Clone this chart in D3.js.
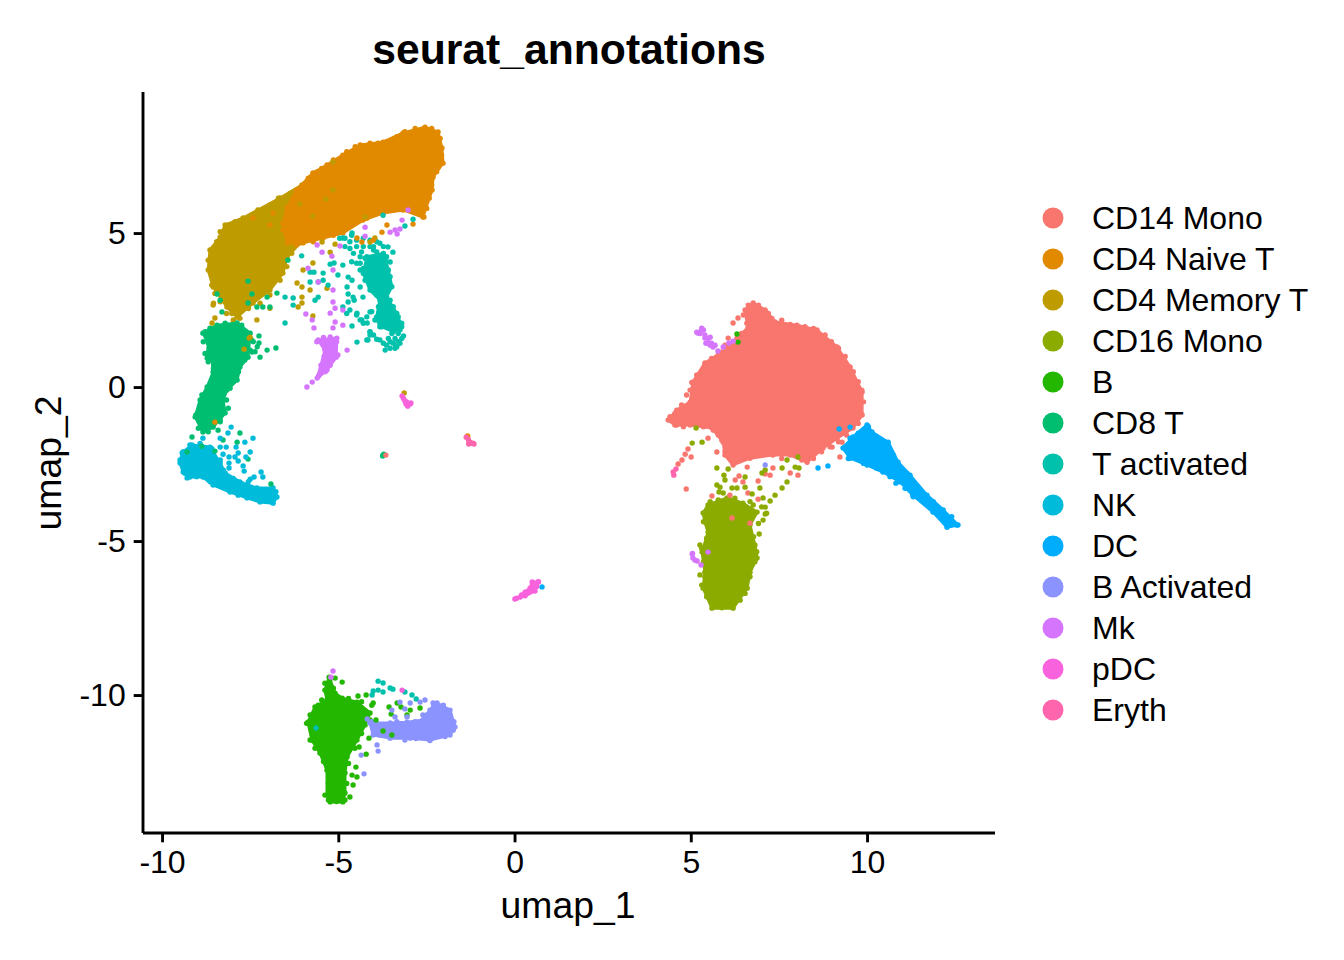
<!DOCTYPE html>
<html><head><meta charset="utf-8">
<script src="https://cdn.jsdelivr.net/npm/d3@7/dist/d3.min.js"></script>
<style>html,body{margin:0;padding:0;background:#fff}svg{display:block}text{font-family:"Liberation Sans",Arial,sans-serif;fill:#000}</style>
</head><body><svg id="c" width="1344" height="960"></svg>
<script>
const titleText="seurat_annotations",xLabel="umap_1",yLabel="umap_2";
const xTicks=[-10,-5,0,5,10],yTicks=[-10,-5,0,5];
const categories=["CD14 Mono","CD4 Naive T","CD4 Memory T","CD16 Mono","B","CD8 T","T activated","NK","DC","B Activated","Mk","pDC","Eryth"];
const colours=["#F8766D","#E18A00","#BE9C00","#8CAB00","#24B700","#00BE70","#00C1AB","#00BBDA","#00ACFC","#8B93FF","#D575FE","#F962DD","#FF65AC"];

// dense regions of each cluster: edge points
const cd14Edge=[[4.36,-1.07],[4.60,-0.75],[4.98,-0.49],[5.06,0.16],[5.40,0.78],[5.89,1.14],[6.31,1.59],[6.62,1.92],[6.54,2.50],[6.77,2.73],[7.11,2.50],[7.39,2.11],[8.01,2.01],[8.58,1.85],[9.15,1.30],[9.52,0.65],[9.86,-0.16],[9.86,-0.91],[9.60,-1.33],[9.15,-1.66],[8.75,-1.98],[8.30,-2.44],[7.82,-2.21],[7.33,-2.21],[6.68,-2.31],[6.20,-2.53],[5.97,-2.21],[5.92,-1.79],[5.60,-1.33],[4.98,-1.23],[4.55,-1.23]];
const naiveEdge=[[-6.18,6.40],[-5.72,6.95],[-5.32,7.21],[-4.87,7.53],[-4.38,7.86],[-3.73,7.95],[-3.16,8.25],[-2.54,8.44],[-2.17,8.28],[-2.06,7.76],[-2.03,7.27],[-2.31,6.82],[-2.34,6.40],[-2.60,5.52],[-3.16,5.75],[-3.73,5.65],[-4.30,5.42],[-4.87,5.00],[-5.43,4.84],[-6.00,4.68],[-6.45,4.68],[-6.57,5.32],[-6.45,5.84]];
const memoryEdge=[[-8.64,4.45],[-8.35,4.87],[-8.21,5.26],[-7.70,5.49],[-7.28,5.75],[-6.65,6.14],[-6.03,6.56],[-5.80,6.07],[-5.80,5.32],[-6.09,4.68],[-6.45,4.22],[-6.57,3.70],[-6.94,3.15],[-7.42,2.73],[-7.87,2.27],[-8.16,2.60],[-8.55,3.25],[-8.69,3.80]];
const cd16Edge=[[5.49,-3.83],[6.03,-3.60],[6.48,-3.77],[6.88,-4.06],[6.68,-4.48],[6.82,-5.13],[6.88,-5.55],[6.68,-6.01],[6.60,-6.53],[6.20,-7.18],[5.60,-7.18],[5.35,-6.53],[5.40,-6.01],[5.32,-5.36],[5.49,-4.71],[5.40,-4.38],[5.35,-4.09]];
const bEdge=[[-5.86,-10.88],[-5.66,-10.39],[-5.32,-10.16],[-5.38,-9.84],[-5.26,-9.42],[-5.09,-9.94],[-4.89,-10.10],[-4.47,-10.23],[-4.10,-10.58],[-4.24,-10.97],[-4.47,-11.46],[-4.75,-12.01],[-4.81,-12.53],[-4.81,-13.18],[-4.87,-13.47],[-5.23,-13.47],[-5.32,-13.25],[-5.32,-12.44],[-5.52,-11.88],[-5.75,-11.46]];
const cd8Edge=[[-8.84,1.75],[-8.44,2.01],[-7.87,2.08],[-7.50,1.75],[-7.56,0.97],[-7.79,0.65],[-7.87,0.23],[-8.16,-0.10],[-8.27,-0.42],[-8.21,-0.84],[-8.55,-1.30],[-8.84,-1.46],[-9.06,-0.97],[-8.92,-0.42],[-8.72,0.00],[-8.55,0.49],[-8.58,0.88],[-8.72,0.94],[-8.69,1.43]];
const tactEdge=[[-4.19,4.23],[-3.72,4.34],[-3.58,3.80],[-3.48,3.26],[-3.63,2.93],[-3.34,2.39],[-3.20,1.96],[-3.44,1.80],[-3.77,1.96],[-3.91,2.28],[-3.82,2.83],[-4.10,3.15],[-4.29,3.69]];
const nkEdge=[[-9.49,-2.47],[-9.43,-2.14],[-9.15,-1.88],[-8.64,-1.95],[-8.35,-2.47],[-8.21,-2.79],[-7.79,-3.08],[-7.31,-3.28],[-6.85,-3.28],[-6.74,-3.57],[-6.85,-3.77],[-7.22,-3.73],[-7.59,-3.60],[-8.07,-3.41],[-8.55,-3.18],[-8.84,-2.92],[-9.21,-2.92],[-9.40,-2.76]];
const dcEdge=[[9.60,-1.62],[10.00,-1.23],[10.14,-1.46],[10.60,-1.79],[10.88,-2.44],[11.22,-2.86],[11.70,-3.51],[12.16,-3.99],[12.58,-4.48],[12.27,-4.55],[11.87,-4.06],[11.30,-3.51],[10.94,-3.08],[10.45,-2.76],[10.00,-2.53],[9.52,-2.31],[9.32,-1.98]];
const bActEdge=[[-4.10,-10.91],[-3.53,-10.91],[-3.05,-10.88],[-2.60,-10.81],[-2.40,-10.49],[-2.20,-10.26],[-1.83,-10.49],[-1.69,-11.04],[-1.83,-11.30],[-2.40,-11.46],[-2.96,-11.40],[-3.53,-11.40],[-4.01,-11.30]];
const mkEdge=[[-5.57,1.53],[-5.04,1.59],[-5.06,0.97],[-5.32,0.55],[-5.60,0.29],[-5.49,0.71],[-5.38,1.20]];
const pdcEdge=[[0.01,-6.88],[0.16,-6.82],[0.30,-6.66],[0.44,-6.53],[0.50,-6.33],[0.67,-6.33],[0.58,-6.62],[0.30,-6.78]];
const erythEdge=[[-1.35,-1.62],[-1.26,-1.79],[-1.18,-1.82],[-1.30,-1.85]];

// cells along the rim of each dense region
const cd14Rim=[[4.41,-0.96],[4.55,-0.86],[4.74,-0.58],[4.88,-0.26],[4.98,-0.10],[5.03,0.15],[5.17,0.39],[5.36,0.55],[5.59,0.93],[5.78,1.04],[5.97,1.36],[6.44,1.74],[6.59,2.07],[6.49,2.34],[6.63,2.66],[6.92,2.66],[7.20,2.39],[7.30,2.23],[7.58,2.17],[7.82,2.03],[8.24,1.96],[8.48,1.90],[8.81,1.69],[8.99,1.47],[9.19,1.26],[9.38,0.99],[9.61,0.50],[9.75,0.17],[9.85,-0.10],[9.90,-0.48],[9.82,-0.86],[9.75,-1.18],[9.42,-1.56],[9.19,-1.78],[8.95,-1.94],[8.71,-2.10],[8.48,-2.32],[8.15,-2.37],[7.91,-2.15],[7.58,-2.32],[7.15,-2.10],[6.87,-2.21],[6.49,-2.26],[6.26,-2.37],[5.97,-2.10],[5.88,-1.72],[5.78,-1.56],[5.64,-1.40],[5.36,-1.29],[5.12,-1.18],[4.79,-1.29],[4.60,-1.23]];
const naiveRim=[[-6.13,6.34],[-5.85,6.78],[-5.47,7.10],[-5.14,7.37],[-4.76,7.64],[-4.52,7.80],[-4.10,7.88],[-3.63,7.97],[-3.34,8.13],[-3.11,8.29],[-2.82,8.40],[-2.35,8.40],[-2.11,8.07],[-2.07,7.53],[-2.26,7.10],[-2.21,6.99],[-2.44,6.72],[-2.35,6.56],[-2.42,6.13],[-2.49,5.80],[-2.73,5.75],[-2.97,6.02],[-3.25,5.91],[-3.53,5.75],[-3.91,5.69],[-4.19,5.48],[-4.57,5.31],[-4.85,5.10],[-5.14,4.93],[-5.71,4.72],[-6.18,4.61]];
const memoryRim=[[-8.69,4.12],[-8.59,3.31],[-8.45,4.72],[-8.35,5.04],[-8.12,5.26],[-7.93,5.37],[-7.50,5.53],[-7.17,5.69],[-6.94,5.91],[-6.70,6.13],[-6.37,6.29],[-8.50,3.04],[-8.35,2.77],[-8.02,2.39],[-7.79,2.23],[-7.55,2.55],[-7.22,2.72],[-6.94,2.99],[-6.65,3.47],[-6.46,3.91],[-6.32,4.34],[-8.54,2.72],[-8.17,2.39],[-7.98,2.18]];
const cd16Rim=[[5.55,-3.72],[5.78,-3.67],[6.25,-3.61],[6.68,-3.72],[7.01,-3.89],[7.15,-4.10],[6.92,-4.43],[6.78,-4.86],[6.87,-5.35],[6.82,-5.67],[6.68,-6.16],[6.54,-6.70],[6.40,-6.92],[5.88,-7.17],[5.45,-6.81],[5.31,-6.43],[5.40,-6.16],[5.36,-5.67],[5.31,-5.24],[5.45,-4.91],[5.50,-4.59],[5.36,-4.37]];
const bRim=[[-5.90,-10.92],[-5.80,-10.65],[-5.57,-10.33],[-5.47,-10.16],[-5.28,-10.11],[-5.14,-9.78],[-5.38,-9.62],[-5.24,-9.51],[-4.71,-10.11],[-4.34,-10.22],[-4.05,-10.33],[-4.10,-10.81],[-4.34,-11.25],[-4.53,-11.73],[-4.71,-12.22],[-4.76,-12.87],[-4.81,-13.41],[-5.05,-13.46],[-5.28,-13.41],[-5.38,-13.25],[-5.28,-12.87],[-5.42,-12.16],[-5.66,-11.73],[-5.80,-11.46]];
const cd8Rim=[[-8.78,1.80],[-8.64,1.91],[-8.21,2.07],[-7.74,2.01],[-7.46,1.53],[-7.60,1.26],[-7.65,0.88],[-7.83,0.50],[-7.98,0.17],[-8.07,-0.04],[-8.17,-0.42],[-8.12,-0.69],[-8.35,-1.13],[-8.69,-1.45],[-8.97,-1.34],[-9.04,-0.91],[-8.92,-0.64],[-8.87,-0.26],[-8.59,0.23],[-8.54,0.61],[-8.69,0.82],[-8.78,1.09],[-8.83,1.47],[-7.41,1.47],[-7.50,1.20],[-7.36,1.15],[-7.30,1.31]];
const tactRim=[[-4.81,4.83],[-4.62,4.93],[-4.48,4.77],[-4.29,4.56],[-4.10,4.56],[-3.91,4.72],[-3.72,4.56],[-4.57,4.34],[-4.38,4.23],[-4.62,4.07],[-4.48,4.02],[-4.38,3.80],[-4.24,3.47],[-4.00,4.45],[-3.82,4.67],[-4.96,4.83],[-4.67,4.72],[-4.29,4.83],[-4.10,4.77],[-3.72,2.01],[-3.25,1.85],[-3.15,1.66],[-3.30,1.47],[-3.39,1.26],[-3.67,1.20],[-3.82,1.53],[-3.58,1.58],[-3.63,1.36],[-4.10,1.80],[-4.00,1.69],[-4.38,2.18],[-4.29,2.07],[-4.48,2.34],[-4.19,2.28],[-4.05,2.45],[-4.76,2.39],[-3.48,1.74],[-3.44,1.42],[-3.25,1.42],[-4.48,4.56],[-4.34,4.39],[-4.24,4.18],[-4.38,4.02],[-4.29,3.85],[-4.19,3.58],[-4.10,3.37],[-4.00,3.10],[-3.91,2.99],[-3.53,3.58],[-3.86,2.61],[-3.96,2.18],[-3.82,2.07],[-4.00,4.56],[-3.91,4.39],[-3.63,4.23],[-3.63,4.07],[-4.67,4.50],[-4.81,4.56],[-3.53,2.82],[-3.44,2.61],[-3.30,2.28],[-3.20,2.07],[-3.91,2.18],[-3.82,1.96],[-3.44,2.01],[-3.30,1.74],[-3.20,1.58],[-3.34,1.31],[-3.53,1.26],[-3.72,1.42],[-3.91,1.55],[-4.10,1.69],[-4.19,1.53],[-3.53,1.47],[-3.39,1.58]];
const nkRim=[[-9.49,-2.37],[-9.40,-2.10],[-9.21,-1.88],[-8.92,-1.83],[-8.59,-1.99],[-8.35,-2.37],[-8.26,-2.70],[-7.98,-2.97],[-7.55,-3.07],[-7.08,-3.34],[-6.77,-3.40],[-6.89,-3.72],[-7.50,-3.56],[-7.84,-3.51],[-8.31,-3.18],[-8.64,-3.07],[-9.02,-2.91],[-9.35,-2.80]];
const dcRim=[[9.75,-1.50],[10.04,-1.29],[10.37,-1.78],[10.75,-2.21],[10.89,-2.53],[11.13,-2.80],[11.41,-3.29],[11.88,-3.72],[12.07,-3.99],[12.40,-4.21],[12.54,-4.48],[12.26,-4.48],[12.07,-4.21],[11.69,-3.78],[11.31,-3.56],[11.08,-3.29],[10.65,-2.91],[10.27,-2.64],[9.90,-2.48],[9.47,-2.32],[9.61,-2.10],[9.38,-1.94]];
const bActRim=[[-4.05,-10.87],[-3.34,-10.87],[-2.82,-10.87],[-2.49,-10.65],[-2.30,-10.38],[-2.02,-10.33],[-1.83,-10.65],[-1.72,-10.87],[-1.74,-11.14],[-1.97,-11.35],[-2.40,-11.48],[-2.80,-11.41],[-3.82,-11.30]];
const mkRim=[[-5.61,1.47],[-5.42,1.61],[-5.23,1.63],[-5.05,1.47],[-5.33,1.09],[-5.14,0.93],[-5.23,0.71],[-5.37,0.50],[-5.56,0.36],[-5.47,0.61],[-5.40,0.99]];

// loose single cells
const cd14Cells=[[6.34,2.24],[6.20,2.08],[6.06,1.59],[5.49,-1.66],[4.92,-2.01],[4.84,-2.18],[5.01,-2.27],[4.75,-2.37],[4.64,-2.50],[5.74,-2.11],[4.87,-3.31],[5.60,-3.54],[6.26,-3.02],[6.48,-3.08],[6.37,-2.89],[6.91,-3.05],[7.11,-2.82],[7.25,-2.86],[7.33,-2.63],[6.60,-2.60],[6.11,-3.51],[6.62,-3.44],[6.91,-3.64],[6.17,-4.25],[6.68,-4.42],[7.82,-2.79],[8.04,-2.86],[9.23,-2.27],[9.01,-1.95],[9.52,-1.33],[9.29,-1.79],[-3.65,-2.21]];
const naiveCells=[[-2.88,5.29],[-3.16,5.84],[-3.62,5.26],[-4.01,4.77],[-3.76,5.03],[-4.33,4.71],[-4.47,4.84],[-8.50,-1.14],[-2.57,5.52],[-4.10,7.92],[-3.87,7.92],[-5.60,6.98],[-7.42,5.49],[-6.85,5.65],[-6.94,5.26],[-6.57,5.10],[-6.37,4.77],[-1.33,-1.59]];
const memoryCells=[[-5.72,4.03],[-6.00,3.80],[-6.17,3.38],[-6.03,3.25],[-5.80,3.15],[-6.03,2.92],[-6.03,2.73],[-6.14,2.60],[-5.72,2.31],[-5.32,3.21],[-5.46,4.71],[-5.23,4.38],[-5.09,4.64],[-8.58,2.08],[-8.55,2.66],[-7.50,1.62],[-7.67,1.23],[-7.31,2.18],[-6.94,2.56],[-7.53,1.59],[-8.50,2.24],[-4.24,5.52],[-4.10,4.71],[-3.96,4.84],[-5.15,7.31],[-5.15,6.40],[-5.72,5.55],[-5.35,6.10],[-6.09,5.94],[-3.13,-0.19]];
const cd16Cells=[[5.15,-1.33],[5.04,-1.82],[5.32,-1.79],[5.74,-2.63],[6.06,-2.66],[5.94,-2.86],[5.97,-3.02],[5.74,-3.18],[5.83,-3.25],[5.80,-3.41],[5.92,-3.44],[6.17,-3.28],[6.31,-3.28],[6.54,-2.92],[6.54,-3.25],[6.96,-3.28],[6.74,-3.47],[7.05,-3.60],[7.39,-3.51],[7.59,-3.28],[7.73,-3.08],[7.25,-3.70],[7.11,-3.90],[7.11,-4.12],[7.05,-4.32],[6.94,-4.77],[7.02,-2.79],[7.11,-2.69],[7.59,-2.63],[7.73,-2.37],[8.04,-2.27],[7.96,-2.60],[8.07,-2.63],[5.26,-5.13],[5.26,-6.10],[6.77,-3.83]];
const bCells=[[-4.89,-9.58],[-5.09,-9.45],[-4.67,-13.31],[-4.58,-12.92],[-4.47,-12.66],[-4.61,-12.60],[-4.50,-12.34],[-4.21,-11.92],[-4.41,-11.69],[-4.13,-11.40],[-3.56,-10.39],[-3.50,-10.62],[-3.33,-10.26],[-3.22,-10.39],[-2.96,-10.49],[-2.68,-10.42],[-3.05,-10.65],[-4.21,-10.00],[-4.44,-10.03],[-3.93,-10.81],[-3.73,-11.17],[-3.48,-11.30],[-4.01,-10.26],[6.31,1.72],[6.34,1.46]];
const cd8Cells=[[-7.25,1.66],[-7.25,1.43],[-7.45,1.14],[-7.02,1.20],[-6.77,1.27],[-7.22,0.97],[-9.15,-1.62],[-8.35,-1.07],[-7.79,-1.49],[-8.27,-1.72],[-7.87,-1.79],[-7.56,-2.34],[-6.91,-3.15],[-9.29,-2.11],[-8.87,-1.92],[-8.50,-2.08],[-8.41,-1.40],[-7.56,3.44],[-7.45,3.02],[-6.74,3.05],[-7.02,2.92],[-7.31,2.60],[-7.56,2.73],[-8.44,3.02],[-8.35,2.82],[-8.30,2.44],[-6.43,4.12],[-7.14,2.60],[-6.94,2.60],[-3.73,-2.21],[-3.74,-2.24],[-3.71,-2.18]];
const tactCells=[[-6.04,4.26],[-5.80,3.73],[-5.69,3.73],[-5.80,3.41],[-5.57,3.41],[-5.43,3.70],[-5.43,3.47],[-5.29,3.31],[-5.23,3.99],[-5.12,4.03],[-5.01,3.64],[-4.87,3.96],[-4.72,3.57],[-4.61,3.47],[-4.75,3.25],[-4.72,3.02],[-4.58,2.92],[-4.30,2.92],[-4.38,3.25],[-5.66,2.82],[-5.57,2.92],[-6.51,2.92],[-6.28,2.89],[-6.28,2.66],[-6.51,2.08],[-4.72,2.76],[-4.55,2.82],[-4.87,2.60],[-4.67,2.50],[-4.47,2.40],[-4.33,2.18],[-4.10,2.44],[-4.18,2.08],[-4.61,1.98],[-4.10,1.79],[-4.16,1.53],[-4.47,1.46],[-3.59,4.55],[-3.45,4.38],[-3.53,4.06],[-3.11,5.23],[-2.88,5.45],[-3.73,5.58],[-4.87,4.84],[-4.61,5.00],[-4.04,-10.00],[-4.01,-9.87],[-3.87,-9.55],[-3.73,-9.61],[-3.73,-9.90],[-3.53,-9.77],[-3.45,-9.81],[-3.87,-9.84],[-3.11,-9.90],[-2.91,-10.00],[-2.79,-10.13],[-5.63,-11.07]];
const nkCells=[[-8.04,-1.30],[-8.13,-1.49],[-7.42,-1.66],[-7.65,-1.79],[-7.90,-1.95],[-8.35,-1.95],[-8.18,-1.95],[-7.50,-2.11],[-7.84,-2.14],[-8.10,-2.27],[-7.93,-2.27],[-7.62,-2.27],[-8.27,-2.18],[-8.10,-2.47],[-8.10,-2.63],[-7.84,-2.40],[-7.70,-2.56],[-7.67,-2.73],[-7.19,-2.76],[-7.14,-2.92],[-7.39,-2.92],[-7.50,-2.99],[-9.29,-2.95],[-8.35,-1.66],[-8.84,-1.66]];
const dcCells=[[8.61,-2.63],[8.89,-2.56],[9.21,-1.36],[9.52,-1.30],[10.82,-3.12],[9.52,-1.66],[0.78,-6.49]];
const bActCells=[[-4.27,-12.56],[-4.35,-11.95],[-3.90,-11.62],[-3.87,-11.82],[-3.11,-11.46],[-3.39,-10.71],[-3.48,-10.49],[-3.25,-10.23],[-3.05,-10.71],[-3.11,-10.45],[-2.96,-10.26],[-2.68,-10.23],[-2.54,-10.16],[-2.31,-10.26],[-2.60,-10.65],[-4.18,-10.78],[7.11,-2.53]];
const mkCells=[[-5.89,0.00],[-5.74,0.16],[-4.75,1.20],[-5.01,1.04],[-4.87,2.01],[-5.69,1.92],[-5.74,2.18],[-5.92,2.37],[-5.15,1.92],[-5.09,2.11],[-5.23,2.40],[-4.87,2.50],[-5.09,2.56],[-5.15,2.76],[-5.86,3.86],[-5.60,4.61],[-5.46,4.38],[-5.18,4.25],[-4.95,4.58],[-5.15,3.80],[-5.57,3.41],[-5.15,3.15],[-4.24,5.19],[-4.24,4.90],[-3.53,5.03],[-3.39,5.10],[-3.25,5.13],[-3.19,5.42],[-3.02,5.75],[-3.33,4.97],[5.26,1.79],[5.40,1.59],[5.55,1.62],[5.63,1.30],[5.77,1.17],[5.92,1.30],[6.08,1.43],[6.20,1.49],[5.32,1.85],[5.21,1.75],[5.49,1.43],[5.17,1.78],[5.31,1.91],[5.40,1.69],[5.50,1.58],[5.43,1.42],[5.59,1.42],[5.69,1.36],[5.26,1.74],[5.36,1.85],[5.55,1.36],[5.04,-5.42],[5.06,-5.55],[5.18,-5.65],[5.29,-5.78],[5.49,-5.36],[5.05,-5.40],[5.12,-5.62],[-5.15,-9.22],[-5.21,-9.42]];
const pdcCells=[[-3.19,-0.29],[-3.11,-0.45],[-3.02,-0.55],[-2.94,-0.52],[-3.15,-0.37],[-3.06,-0.48],[-2.96,-0.55],[-3.08,-0.55],[-3.03,-0.62],[-3.19,-9.84],[0.06,-6.86],[0.20,-6.75],[0.35,-6.65],[0.49,-6.59],[0.63,-6.48],[0.68,-6.32],[0.53,-6.37]];
const erythCells=[[4.50,-2.76],[4.52,-2.86],[4.58,-2.66],[-1.31,-1.70],[-1.24,-1.83],[-1.15,-1.85],[-1.37,-1.63]];

const edges=[cd14Edge,naiveEdge,memoryEdge,cd16Edge,bEdge,cd8Edge,tactEdge,nkEdge,dcEdge,bActEdge,mkEdge,pdcEdge,erythEdge];
const rims=[cd14Rim,naiveRim,memoryRim,cd16Rim,bRim,cd8Rim,tactRim,nkRim,dcRim,bActRim,mkRim,[],[]];
const cells=[cd14Cells,naiveCells,memoryCells,cd16Cells,bCells,cd8Cells,tactCells,nkCells,dcCells,bActCells,mkCells,pdcCells,erythCells];
const paintOrder=[2,1,6,5,7,0,3,8,4,9,10,11,12];

const svg=d3.select("#c");
const x=d3.scaleLinear().domain([-10.54,13.63]).range([143,995]);
const y=d3.scaleLinear().domain([-14.48,9.58]).range([833,92]);
const outline=d3.line().x(d=>x(d[0])).y(d=>y(d[1])).curve(d3.curveLinearClosed);
const R=2.7;

const plot=svg.append("g");
const dots=(list,i)=>plot.append("g").selectAll("circle").data(list).join("circle").attr("cx",d=>x(d[0])).attr("cy",d=>y(d[1])).attr("r",R).attr("fill",colours[i]);
paintOrder.forEach(i=>{
  plot.append("path").attr("d",outline(edges[i])).attr("fill",colours[i]).attr("stroke",colours[i]).attr("stroke-width",3).attr("stroke-linejoin","round");
  dots(edges[i],i);
  dots(rims[i],i);
});
paintOrder.forEach(i=>dots(cells[i],i));

const gx=svg.append("g").attr("transform","translate(0,833)").call(d3.axisBottom(x).tickValues(xTicks).tickFormat(String).tickSize(9.3).tickPadding(8));
const gy=svg.append("g").attr("transform","translate(143,0)").call(d3.axisLeft(y).tickValues(yTicks).tickFormat(String).tickSize(9.3).tickPadding(8));
[gx,gy].forEach(g=>{
  g.selectAll("path.domain").attr("stroke","#000").attr("stroke-width",2.9);
  g.selectAll("line").attr("stroke","#000").attr("stroke-width",2.9);
  g.selectAll("text").style("font-size","32px").attr("fill","#000");
  g.attr("font-family",null);
});
gx.select("path.domain").attr("d","M"+x.range()[0]+",0H"+x.range()[1]);
gy.select("path.domain").attr("d","M0,"+y.range()[0]+"V"+y.range()[1]);

svg.append("text").attr("x",569).attr("y",64).attr("text-anchor","middle").style("font-size","42.67px").style("font-weight","bold").text(titleText);
svg.append("text").attr("x",568).attr("y",918).attr("text-anchor","middle").style("font-size","37.33px").text(xLabel);
svg.append("text").attr("transform","translate(61,463) rotate(-90)").attr("text-anchor","middle").style("font-size","37.33px").text(yLabel);

const leg=svg.append("g").selectAll("g").data(categories).join("g").attr("transform",(d,i)=>`translate(0,${218+i*41})`);
leg.append("circle").attr("cx",1053).attr("cy",0).attr("r",10.5).attr("fill",(d,i)=>colours[i]);
leg.append("text").attr("x",1092).attr("y",11).style("font-size","32px").text(d=>d);
</script></body></html>
